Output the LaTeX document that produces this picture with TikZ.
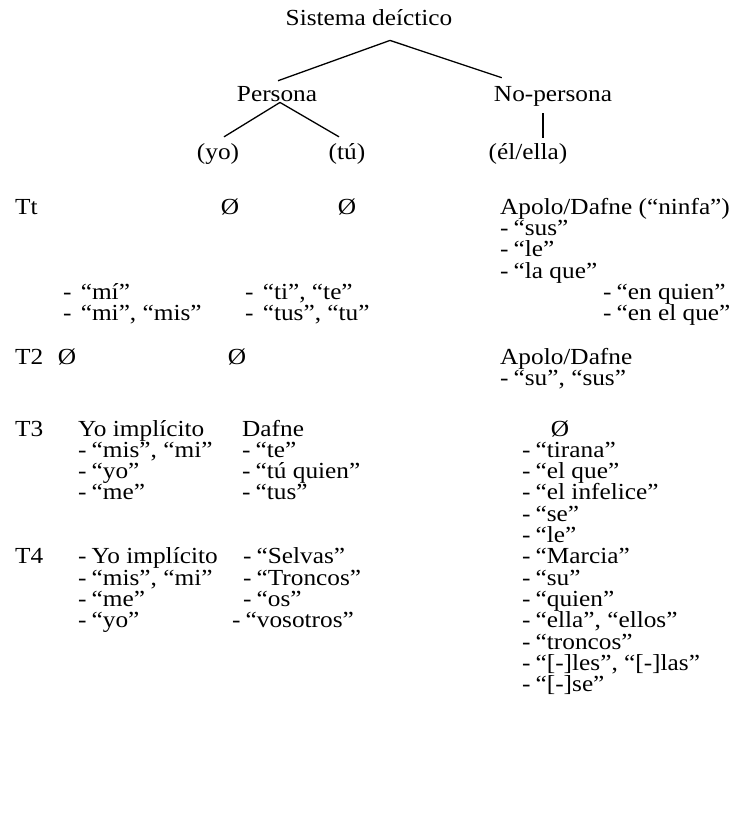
\documentclass[tikz,border=0pt]{standalone}
\usepackage{fontspec}
\setmainfont[FakeStretch=1.1]{Liberation Serif}
\usetikzlibrary{calc}
% list entries: a hyphen, a small gap, then the entry
\newcommand\dashitem[1]{-\hspace{0.22em}#1}
\newcommand\widedashitem[1]{-\hspace{0.4em}#1}
\begin{document}
\begin{tikzpicture}[x=1pt,y=-1pt,
  every node/.style={inner sep=0pt,font=\fontsize{23}{23}\selectfont},
  ctr/.style={anchor=base},
  txt/.style={anchor=base west},
  branch/.style={line width=1.3pt},
  stem/.style={line width=1.7pt}]
\useasboundingbox (0,0) rectangle (735,836);

% tree of the deictic system
\node[ctr] (root) at (369,25) {Sistema deíctico};
\node[ctr] (pers) at (277,101) {Persona};
\node[ctr] (nopers) at (553,101) {No-persona};
\node[ctr] (yo) at (218,159) {(yo)};
\node[ctr] (tu) at (347,159) {(tú)};
\node[ctr] (el) at (528,159) {(él/ella)};

\draw[branch] ($(root.south)+(21,15)$) -- ($(pers.north)+(1,-5)$);
\draw[branch] ($(root.south)+(21,15)$) -- ($(nopers.north west)+(8,-8)$);
\draw[branch] ($(pers.south)+(3,1)$) -- ($(yo.north)+(6,-6)$);
\draw[branch] ($(pers.south)+(3,1)$) -- ($(tu.north)+(-8,-6)$);
\draw[stem] ($(nopers.south)+(-10,7)$) -- ($(el.north)+(15,-5)$);

% Tt
\node[txt] (ttlab) at (15,214) {Tt};
\node[ctr] (tt0a) at (230,214) {Ø};
\node[ctr] (tt0b) at (347,214) {Ø};
\node[txt] (tthead) at (500,214) {Apolo/Dafne (“ninfa”)};
\node[txt] (tt1) at (500,235) {\dashitem{“sus”}};
\node[txt] (tt2) at (500,256.5) {\dashitem{“le”}};
\node[txt] (tt3) at (500,278) {\dashitem{“la que”}};
\node[txt] (tta1) at (63,299) {\widedashitem{“mí”}};
\node[txt] (tta2) at (63,320) {\widedashitem{“mi”, “mis”}};
\node[txt] (ttb1) at (245,299) {\widedashitem{“ti”, “te”}};
\node[txt] (ttb2) at (245,320) {\widedashitem{“tus”, “tu”}};
\node[txt] (ttc1) at (603,299) {\dashitem{“en quien”}};
\node[txt] (ttc2) at (603,320) {\dashitem{“en el que”}};

% T2
\node[txt] (t2lab) at (15,364) {T2};
\node[ctr] (t20a) at (67,364) {Ø};
\node[ctr] (t20b) at (237,364) {Ø};
\node[txt] (t2head) at (500,364) {Apolo/Dafne};
\node[txt] (t21) at (500,385) {\dashitem{“su”, “sus”}};

% T3
\node[txt] (t3lab) at (15,436) {T3};
\node[txt] (t3ahead) at (78,436) {Yo implícito};
\node[txt] (t3a1) at (78,457) {\dashitem{“mis”, “mi”}};
\node[txt] (t3a2) at (78,478.4) {\dashitem{“yo”}};
\node[txt] (t3a3) at (78,499.7) {\dashitem{“me”}};
\node[txt] (t3bhead) at (242,436) {Dafne};
\node[txt] (t3b1) at (242,457) {\dashitem{“te”}};
\node[txt] (t3b2) at (242,478.4) {\dashitem{“tú quien”}};
\node[txt] (t3b3) at (242,499.7) {\dashitem{“tus”}};
\node[ctr] (t3chead) at (560,436) {Ø};
\node[txt] (t3c1) at (522,457) {\dashitem{“tirana”}};
\node[txt] (t3c2) at (522,478.4) {\dashitem{“el que”}};
\node[txt] (t3c3) at (522,499.7) {\dashitem{“el infelice”}};
\node[txt] (t3c4) at (522,521) {\dashitem{“se”}};
\node[txt] (t3c5) at (522,542.4) {\dashitem{“le”}};
\node[txt] (t3c6) at (522,563.8) {\dashitem{“Marcia”}};
\node[txt] (t3c7) at (522,585.1) {\dashitem{“su”}};
\node[txt] (t3c8) at (522,606.5) {\dashitem{“quien”}};
\node[txt] (t3c9) at (522,627.8) {\dashitem{“ella”, “ellos”}};
\node[txt] (t3c10) at (522,649.2) {\dashitem{“troncos”}};
\node[txt] (t3c11) at (522,670.5) {\dashitem{“[-]les”, “[-]las”}};
\node[txt] (t3c12) at (522,691.9) {\dashitem{“[-]se”}};

% T4
\node[txt] (t4lab) at (15,563.8) {T4};
\node[txt] (t4a1) at (78,563.8) {\dashitem{Yo implícito}};
\node[txt] (t4a2) at (78,585.1) {\dashitem{“mis”, “mi”}};
\node[txt] (t4a3) at (78,606.5) {\dashitem{“me”}};
\node[txt] (t4a4) at (78,627.8) {\dashitem{“yo”}};
\node[txt] (t4b1) at (243,563.8) {\dashitem{“Selvas”}};
\node[txt] (t4b2) at (243,585.1) {\dashitem{“Troncos”}};
\node[txt] (t4b3) at (243,606.5) {\dashitem{“os”}};
\node[txt] (t4b4) at (232,627.8) {\dashitem{“vosotros”}};
\end{tikzpicture}
\end{document}
